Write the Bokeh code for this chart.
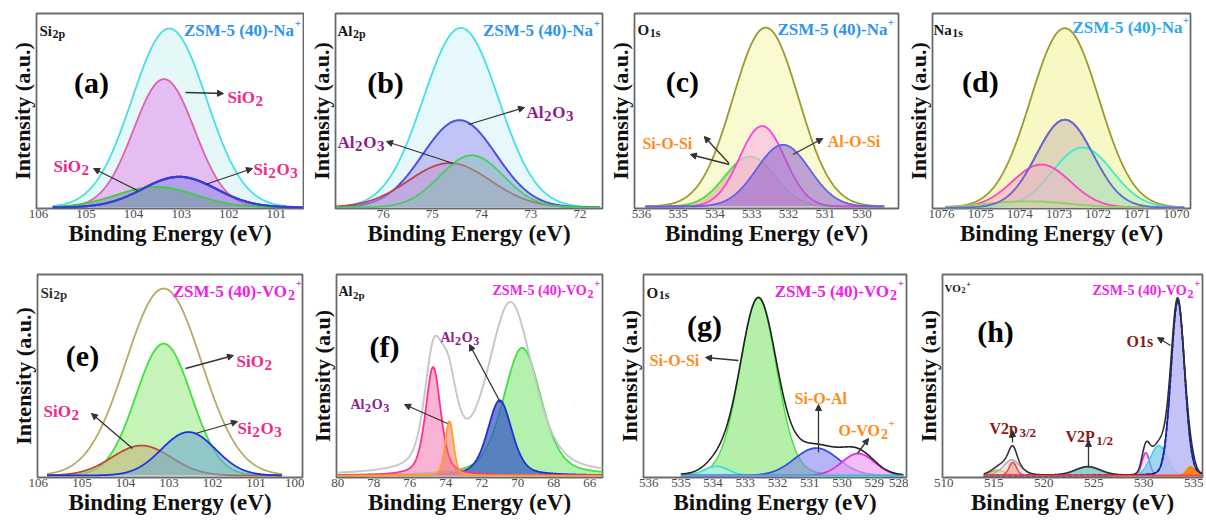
import numpy as np
from bokeh.plotting import figure
from bokeh.layouts import row, column
from bokeh.models import Range1d, FixedTicker, Arrow, NormalHead
from bokeh.core.properties import value
from bokeh.embed import file_html
from bokeh.resources import INLINE

SERIF = "Liberation Serif"

# ------------------------------------------------------------------
# Fitted XPS components: centre (eV), height (normalised), FWHM (eV),
# Lorentzian fraction of the pseudo-Voigt profile.
# ------------------------------------------------------------------
# (a) Si 2p  ZSM-5(40)-Na+
a_ticks = [106, 105, 104, 103, 102, 101]
a_scan = [105.7, 100.45]
a_env_center, a_env_height, a_env_fwhm, a_env_lor = [103.25], [1.0], [1.84], [0.0]
a_names = ["SiO2", "SiO2", "Si2O3"]
a_center = [103.36, 103.53, 103.04]
a_height = [0.717, 0.115, 0.171]
a_fwhm = [1.51, 1.96, 1.82]
a_lor = [0.0, 0.0, 0.0]

# (b) Al 2p  ZSM-5(40)-Na+
b_ticks = [77, 76, 75, 74, 73, 72]
b_scan = [76.95, 71.6]
b_env_center, b_env_height, b_env_fwhm, b_env_lor = [74.42], [1.0], [1.8], [0.0]
b_names = ["Al2O3", "Al2O3", "Al2O3"]
b_center = [74.45, 74.2, 74.65]
b_height = [0.486, 0.29, 0.247]
b_fwhm = [1.76, 1.52, 1.96]
b_lor = [0.0, 0.0, 0.0]

# (c) O 1s  ZSM-5(40)-Na+
c_ticks = [536, 535, 534, 533, 532, 531, 530, 529]
c_scan = [535.9, 529.4]
c_env_center, c_env_height, c_env_fwhm, c_env_lor = [532.62], [1.0], [2.1], [0.0]
c_names = ["Si-O-Si", "Al-O-Si", "Si-O-Si"]
c_center = [532.72, 532.15, 533.05]
c_height = [0.45, 0.345, 0.28]
c_fwhm = [1.45, 1.7, 1.6]
c_lor = [0.0, 0.0, 0.0]

# (d) Na 1s  ZSM-5(40)-Na+
d_ticks = [1076, 1075, 1074, 1073, 1072, 1071, 1070]
d_scan = [1075.9, 1069.8]
d_env_center, d_env_height, d_env_fwhm, d_env_lor = [1072.85], [1.0], [2.05], [0.0]
d_center = [1072.85, 1072.4, 1073.45, 1073.8]
d_height = [0.49, 0.335, 0.24, 0.035]
d_fwhm = [1.7, 1.8, 1.75, 2.5]
d_lor = [0.0, 0.0, 0.0, 0.0]

# (e) Si 2p  ZSM-5(40)-VO2+
e_ticks = [106, 105, 104, 103, 102, 101, 100]
e_scan = [105.8, 100.4]
e_env_center, e_env_height, e_env_fwhm, e_env_lor = [103.12], [1.0], [2.05], [0.0]
e_names = ["SiO2", "Si2O3", "SiO2"]
e_center = [103.12, 102.55, 103.63]
e_height = [0.705, 0.232, 0.16]
e_fwhm = [1.5, 1.46, 1.6]
e_lor = [0.0, 0.0, 0.0]

# (f) Al 2p  ZSM-5(40)-VO2+  (measured envelope + four components)
f_ticks = [80, 78, 76, 74, 72, 70, 68, 66]
f_scan = [80.0, 65.3]
f_env_center = [74.7, 73.85, 70.4]
f_env_height = [0.6, 0.42, 0.98]
f_env_fwhm = [1.2, 1.2, 3.0]
f_env_lor = [0.5, 0.5, 0.5]
f_center = [69.75, 71.0, 74.7, 73.8]
f_height = [0.73, 0.43, 0.62, 0.31]
f_fwhm = [2.5, 1.6, 1.0, 0.55]
f_lor = [0.4, 0.4, 0.5, 0.3]

# (g) O 1s  ZSM-5(40)-VO2+
g_ticks = [536, 535, 534, 533, 532, 531, 530, 529, 528]
g_scan = [535.0, 528.1]
g_names = ["Si-O-Si", "", "Si-O-Al", "O-VO2+"]
g_center = [532.6, 533.9, 530.8, 529.5]
g_height = [0.97, 0.05, 0.15, 0.12]
g_fwhm = [1.35, 0.9, 1.6, 1.2]
g_lor = [0.1, 0.0, 0.0, 0.0]

# (h) V 2p / O 1s  ZSM-5(40)-VO2+
h_ticks = [510, 515, 520, 525, 530, 535]
h_scan = [514.0, 535.8]
h_center = [515.4, 516.8, 516.9, 524.4, 530.2, 531.5, 533.4, 534.7]
h_height = [0.03, 0.09, 0.075, 0.05, 0.13, 0.17, 1.0, 0.05]
h_fwhm = [1.8, 2.0, 0.9, 3.0, 0.9, 2.0, 1.6, 1.0]
h_lor = [0.2, 0.3, 0.2, 0.2, 0.0, 0.0, 0.1, 0.0]


def profile(x, c, h, w, eta):
    s = (x - c) / w
    return h * ((1 - eta) * np.exp(-4 * np.log(2) * s * s) + eta / (1 + 4 * s * s))


def total(x, cs, hs, ws, etas):
    return sum(profile(x, c, h, w, e) for c, h, w, e in zip(cs, hs, ws, etas))


# glyph advance widths of a bold Times-style face (per em)
ADV = {c: 0.5 for c in "0123456789"}
ADV.update({"A": .722, "B": .667, "C": .722, "D": .722, "E": .667, "I": .389, "M": .944,
            "N": .722, "O": .778, "P": .611, "S": .556, "V": .722, "Z": .667,
            "a": .5, "i": .278, "l": .278, "p": .556, "s": .389, "u": .556, "e": .444,
            " ": .25, "(": .333, ")": .333, "-": .333, "+": .57, "/": .278, ".": .25})


def tw(s, size):
    return sum(ADV.get(ch, 0.5) for ch in s) * size


class Frame:
    def __init__(self, x0, y0, w, h, l, r, t, b, xr, yr):
        self.w, self.h, self.l, self.r, self.t, self.b = w, h, l, r, t, b
        self.xr, self.yr = xr, yr
        self.L, self.R = x0 + l, x0 + w - r
        self.T, self.B = y0 + t, y0 + h - b

    def data(self, px, py):
        x = self.xr[0] + (px - self.L) / (self.R - self.L) * (self.xr[1] - self.xr[0])
        y = self.yr[1] - (py - self.T) / (self.B - self.T) * (self.yr[1] - self.yr[0])
        return x, y


def make_fig(fr, ticks, ylabel):
    p = figure(width=fr.w, height=fr.h, x_range=Range1d(*fr.xr), y_range=Range1d(*fr.yr),
               output_backend="svg", toolbar_location=None,
               min_border_left=fr.l, min_border_right=fr.r,
               min_border_top=fr.t, min_border_bottom=fr.b)
    p.grid.visible = False
    p.background_fill_color = "white"
    p.border_fill_color = "white"
    p.outline_line_color = "#6a6a6a"
    p.outline_line_width = 1.8
    for ax in (p.xaxis, p.yaxis):
        ax.axis_line_color = None
        ax.major_tick_line_color = None
        ax.minor_tick_line_color = None
        ax.major_tick_out = 0
        ax.major_tick_in = 0
        ax.minor_tick_out = 0
        ax.minor_tick_in = 0
        ax.axis_label_text_font = SERIF
        ax.axis_label_text_font_style = "bold"
        ax.axis_label_text_color = "#111111"
    p.xaxis.ticker = FixedTicker(ticks=ticks)
    p.xaxis.major_label_text_font = SERIF
    p.xaxis.major_label_text_font_size = "13px"
    p.xaxis.major_label_text_color = "#4a4a4a"
    p.xaxis.major_label_standoff = 1
    p.xaxis.axis_label = "Binding Energy (eV)"
    p.xaxis.axis_label_text_font_size = "23px"
    p.xaxis.axis_label_standoff = 0
    p.yaxis.ticker = FixedTicker(ticks=[])
    p.yaxis.major_label_standoff = 0
    p.yaxis.axis_label = ylabel
    p.yaxis.axis_label_text_font_size = "22px"
    p.yaxis.axis_label_standoff = 2
    return p


def peak(p, x, y, line, fill, alpha, lw=1.8, dash="solid"):
    if fill is not None:
        p.varea(x=x, y1=np.zeros_like(x), y2=y, fill_color=fill, fill_alpha=alpha)
    p.line(x, y, line_color=line, line_width=lw, line_dash=dash)


def rich(p, fr, px, py, parts, color, align="left", gap=0.6):
    width = sum(tw(t, s) + gap for t, s, r in parts)
    x = px - {"left": 0, "center": width / 2, "right": width}[align]
    for t, s, r in parts:
        X, Y = fr.data(x, py - r)
        p.text(x=[X], y=[Y], text=[t], text_font=value(SERIF), text_font_size=f"{s}px",
               text_font_style="bold", text_color=color, text_align="left",
               text_baseline="alphabetic")
        x += tw(t, s) + gap


def letter(p, fr, px, py, s):
    X, Y = fr.data(px, py)
    p.text(x=[X], y=[Y], text=[s], text_font=value(SERIF), text_font_size="30px",
           text_font_style="bold", text_color="black", text_align="center",
           text_baseline="middle")


def arrow(p, fr, p0, p1):
    x0, y0 = fr.data(*p0)
    x1, y1 = fr.data(*p1)
    p.add_layout(Arrow(x_start=x0, y_start=y0, x_end=x1, y_end=y1, line_color="#333333",
                       line_width=1.3,
                       end=NormalHead(size=6, fill_color="#333333", line_color="#333333")))


NA_PLUS = [("ZSM-5 (40)-Na", 17, 0), ("+", 11, 7)]
VO_PLUS = [("ZSM-5 (40)-VO", 17, 0), ("2", 14, -3), ("+", 11, 8)]
VO_PLUS_S = [("ZSM-5 (40)-VO", 14, 0), ("2", 12, -3), ("+", 10, 7)]
SIO2 = [("SiO", 17, 0), ("2", 15, -3)]
SI2O3 = [("Si", 17, 0), ("2", 15, -3), ("O", 17, 0), ("3", 15, -3)]
AL2O3 = [("Al", 17, 0), ("2", 15, -3), ("O", 17, 0), ("3", 15, -3)]
AL2O3_S = [("Al", 14, 0), ("2", 12, -3), ("O", 14, 0), ("3", 12, -3)]
PINK, PURPLE, ORANGE, DARKRED = "#f0288c", "#8b1c8b", "#ff8c1a", "#8b1a1a"
NA_BLUE, VO_MAG = "#2f93ef", "#f020e8"

# ------------------------------------------------------------------
# frames (figure width/height and borders)
# ------------------------------------------------------------------
fa = Frame(0, 0, 304, 260, 36, 1, 13, 52, (106.04, 100.43), (-0.006, 1.084))
fb = Frame(304, 0, 300, 260, 31, 2, 13, 52, (76.97, 71.54), (-0.006, 1.08))
fc = Frame(604, 0, 298, 260, 29, 4, 13, 52, (536.19, 529.01), (-0.011, 1.079))
fd = Frame(902, 0, 304, 260, 29, 16, 13, 52, (1076.23, 1069.64), (-0.005, 1.082))
fe = Frame(0, 260, 304, 261, 37, 2, 14, 44, (106.02, 99.93), (-0.011, 1.075))
ff = Frame(304, 260, 300, 261, 32, 2, 14, 44, (80.07, 65.29), (-0.011, 1.149))
fg = Frame(604, 260, 304, 261, 39, 2, 14, 44, (536.16, 528.0), (-0.011, 1.10))
fh = Frame(908, 260, 298, 261, 34, 4, 14, 44, (509.87, 535.87), (-0.011, 1.148))

# ---------------- (a) ----------------
pa = make_fig(fa, a_ticks, "Intensity (a.u.)")
x = np.linspace(*a_scan, 500)
peak(pa, x, total(x, a_env_center, a_env_height, a_env_fwhm, a_env_lor), "#45e0e6", "#e4f8f8", 1.0)
ys = [profile(x, *args) for args in zip(a_center, a_height, a_fwhm, a_lor)]
peak(pa, x, ys[0], "#e060b0", "#e4b4f2", 0.85)
peak(pa, x, ys[2], "#3b3bd8", "#9a88ea", 0.6, lw=2.2)
peak(pa, x, ys[1], "#3ccf3c", "#6f9e98", 0.55)
pa.line(x, ys[2], line_color="#3b3bd8", line_width=2.2)
rich(pa, fa, 39, 30, [("Si", 15, 0), ("2p", 12, -3)], "#1a1a1a")
rich(pa, fa, 301, 30, NA_PLUS, NA_BLUE, "right")
letter(pa, fa, 91, 82, "(a)")
rich(pa, fa, 227, 97, SIO2, PINK)
rich(pa, fa, 53, 166, SIO2, PINK)
rich(pa, fa, 253, 169, SI2O3, PINK)
arrow(pa, fa, (185, 92), (223, 93))
arrow(pa, fa, (137, 190), (93, 168))
arrow(pa, fa, (205, 184), (252, 168))

# ---------------- (b) ----------------
pb = make_fig(fb, b_ticks, "Intensity (a.u.)")
x = np.linspace(*b_scan, 500)
peak(pb, x, total(x, b_env_center, b_env_height, b_env_fwhm, b_env_lor), "#40e0e8", "#e6f8fb", 1.0)
ys = [profile(x, *args) for args in zip(b_center, b_height, b_fwhm, b_lor)]
peak(pb, x, ys[0], "#5050e0", "#b4b4f4", 0.75, lw=2.0)
peak(pb, x, ys[2], "#c04050", "#c090c8", 0.5)
peak(pb, x, ys[1], "#40d060", "#80c0b0", 0.45)
rich(pb, fb, 337, 30, [("Al", 15, 0), ("2p", 12, -3)], "#1a1a1a")
rich(pb, fb, 600, 30, NA_PLUS, NA_BLUE, "right")
letter(pb, fb, 385, 82, "(b)")
rich(pb, fb, 526, 112, AL2O3, PURPLE)
rich(pb, fb, 337, 142, AL2O3, PURPLE)
arrow(pb, fb, (468, 124), (524, 107))
arrow(pb, fb, (453, 163), (386, 141))

# ---------------- (c) ----------------
pc = make_fig(fc, c_ticks, "Intensity (a.u.)")
x = np.linspace(*c_scan, 500)
peak(pc, x, total(x, c_env_center, c_env_height, c_env_fwhm, c_env_lor), "#9a9a30", "#fafad0", 1.0)
ys = [profile(x, *args) for args in zip(c_center, c_height, c_fwhm, c_lor)]
peak(pc, x, ys[2], "#40e040", "#d4b48e", 0.6)
peak(pc, x, ys[0], "#ff40e0", "#f8bce0", 0.7)
peak(pc, x, ys[1], "#6060e8", "#8a5cd0", 0.55)
rich(pc, fc, 636, 29, [("O", 15, 0), ("1s", 12, -3)], "#1a1a1a")
rich(pc, fc, 894, 29, NA_PLUS, NA_BLUE, "right")
letter(pc, fc, 681, 81, "(c)")
rich(pc, fc, 641, 143, [("Si-O-Si", 16, 0)], ORANGE)
rich(pc, fc, 827, 141, [("Al-O-Si", 16, 0)], ORANGE)
arrow(pc, fc, (728, 163), (703, 136))
arrow(pc, fc, (728, 164), (689, 154))
arrow(pc, fc, (792, 154), (822, 138))

# ---------------- (d) ----------------
pd_ = make_fig(fd, d_ticks, "Intensity (a.u.)")
x = np.linspace(*d_scan, 500)
peak(pd_, x, total(x, d_env_center, d_env_height, d_env_fwhm, d_env_lor), "#9a9a30", "#f8f8c4", 1.0)
ys = [profile(x, *args) for args in zip(d_center, d_height, d_fwhm, d_lor)]
peak(pd_, x, ys[0], "#6868d0", "#d4c8b4", 0.7)
peak(pd_, x, ys[1], "#40e8d0", "#b4f0c0", 0.6)
peak(pd_, x, ys[2], "#ff40c0", "#f0b0c4", 0.6)
peak(pd_, x, ys[3], "#90d060", "#c0e0a0", 0.5)
pd_.line(x, ys[0], line_color="#6868d0", line_width=1.8)
rich(pd_, fd, 932, 29, [("Na", 15, 0), ("1s", 12, -3)], "#1a1a1a")
rich(pd_, fd, 1189, 27, NA_PLUS, "#2aa8f0", "right")
letter(pd_, fd, 979, 81, "(d)")

# ---------------- (e) ----------------
pe = make_fig(fe, e_ticks, "Intensity (a.u.)")
x = np.linspace(*e_scan, 500)
peak(pe, x, total(x, e_env_center, e_env_height, e_env_fwhm, e_env_lor), "#b8a860", None, 0)
ys = [profile(x, *args) for args in zip(e_center, e_height, e_fwhm, e_lor)]
peak(pe, x, ys[0], "#40e040", "#c0f2b0", 0.9)
peak(pe, x, ys[2], "#c04830", "#c4b078", 0.55)
peak(pe, x, ys[1], "#2030e0", "#70aad0", 0.6)
rich(pe, fe, 40, 292, [("Si", 15, 0), ("2p", 13, -2)], "#333333")
rich(pe, fe, 302, 291, VO_PLUS, VO_MAG, "right")
letter(pe, fe, 82, 355, "(e)")
rich(pe, fe, 236, 361, SIO2, PINK)
rich(pe, fe, 43, 411, SIO2, PINK)
rich(pe, fe, 237, 428, SI2O3, PINK)
arrow(pe, fe, (185, 368), (233, 355))
arrow(pe, fe, (132, 448), (91, 413))
arrow(pe, fe, (195, 433), (237, 421))

# ---------------- (f) ----------------
pf = make_fig(ff, f_ticks, "Intensity (a.u)")
x = np.linspace(*f_scan, 600)
ys = [profile(x, *args) for args in zip(f_center, f_height, f_fwhm, f_lor)]
peak(pf, x, ys[0], "#40e040", "#a4f0a0", 0.85)
peak(pf, x, ys[1], "#2030d0", "#3a5cc4", 0.75)
peak(pf, x, ys[2], "#ff3090", "#f8a0c8", 0.8)
peak(pf, x, ys[3], "#ffa020", "#f07060", 0.5)
pf.line(x, total(x, f_env_center, f_env_height, f_env_fwhm, f_env_lor), line_color="#c8c8c8", line_width=2.0)
rich(pf, ff, 338, 291, [("Al", 14, 0), ("2p", 11, -3)], "#1a1a1a")
rich(pf, ff, 600, 290, VO_PLUS_S, VO_MAG, "right")
letter(pf, ff, 384, 346, "(f)")
rich(pf, ff, 440, 337, AL2O3_S, PURPLE)
rich(pf, ff, 350, 404, AL2O3_S, PURPLE)
arrow(pf, ff, (500, 402), (469, 344))
arrow(pf, ff, (447, 423), (404, 404))

# ---------------- (g) ----------------
pg = make_fig(fg, g_ticks, "Intensity (a.u)")
x = np.linspace(*g_scan, 600)
ys = [profile(x, *args) for args in zip(g_center, g_height, g_fwhm, g_lor)]
peak(pg, x, ys[0], "#40e040", "#b4f0a8", 1.0, lw=1.4)
peak(pg, x, ys[1], "#40e0e0", "#b0f0f0", 0.7)
peak(pg, x, ys[2], "#3050e0", "#7a7af0", 0.55)
peak(pg, x, ys[3], "#e030e0", "#f0a0f0", 0.7)
pg.line(x, total(x, g_center, g_height, g_fwhm, g_lor), line_color="#202020", line_width=1.6)
pg.line(x, np.zeros_like(x), line_color="#30c0d0", line_width=1.5)
rich(pg, fg, 646, 292, [("O", 15, 0), ("1s", 12, -2)], "#1a1a1a")
rich(pg, fg, 904, 291, VO_PLUS, VO_MAG, "right")
letter(pg, fg, 704, 325, "(g)")
rich(pg, fg, 649, 360, [("Si-O-Si", 16, 0)], ORANGE)
rich(pg, fg, 794, 398, [("Si-O-Al", 16, 0)], ORANGE)
rich(pg, fg, 838, 430, [("O-VO", 16, 0), ("2", 14, -3), ("+", 11, 7)], ORANGE)
arrow(pg, fg, (738, 360), (705, 357))
arrow(pg, fg, (818, 452), (818, 404))
arrow(pg, fg, (857, 453), (868, 438))

# ---------------- (h) ----------------
ph = make_fig(fh, h_ticks, "Intensity (a.u)")
x = np.linspace(*h_scan, 900)
ys = [profile(x, *args) for args in zip(h_center, h_height, h_fwhm, h_lor)]
h_lines = ["#c0b040", "#b0b0b0", "#ff4040", "#40a0a0", "#e030e0", "#30d8f0", "#1020b0", "#ff8000"]
h_fills = ["#e0d080", "#d8d8d8", "#f0a090", "#70c0c0", "#f0a0f0", "#60c0e0", "#b8b8f4", "#ff8000"]
h_alpha = [0.5, 0.55, 0.6, 0.75, 0.35, 0.6, 0.85, 0.9]
for yv, lc, fc_, al in zip(ys, h_lines, h_fills, h_alpha):
    peak(ph, x, yv, lc, fc_, al, lw=1.6)
ph.line(x, ys[6], line_color="#1020b0", line_width=1.8, line_dash="4 2")
ph.line(x, total(x, h_center, h_height, h_fwhm, h_lor), line_color="#303030", line_width=1.6)
ph.line(x, np.zeros_like(x), line_color="#ff4040", line_width=1.4)
rich(ph, fh, 944, 287, [("VO", 11, 0), ("2", 8, -2), ("+", 8, 4)], "#1a1a1a")
rich(ph, fh, 1200, 290, VO_PLUS_S, VO_MAG, "right")
letter(ph, fh, 995, 331, "(h)")
rich(ph, fh, 989, 428, [("V2p", 16, 0), ("3/2", 13, -4)], DARKRED, gap=1.5)
rich(ph, fh, 1065, 436, [("V2P", 16, 0), ("1/2", 13, -4)], DARKRED, gap=1.5)
rich(ph, fh, 1126, 341, [("O1s", 16, 0)], DARKRED)
arrow(ph, fh, (1012, 442), (1012, 430))
arrow(ph, fh, (1088, 466), (1088, 440))
arrow(ph, fh, (1170, 345), (1157, 337))

layout = column(row(pa, pb, pc, pd_), row(pe, pf, pg, ph))
open("out.html", "w").write(file_html(layout, INLINE))
